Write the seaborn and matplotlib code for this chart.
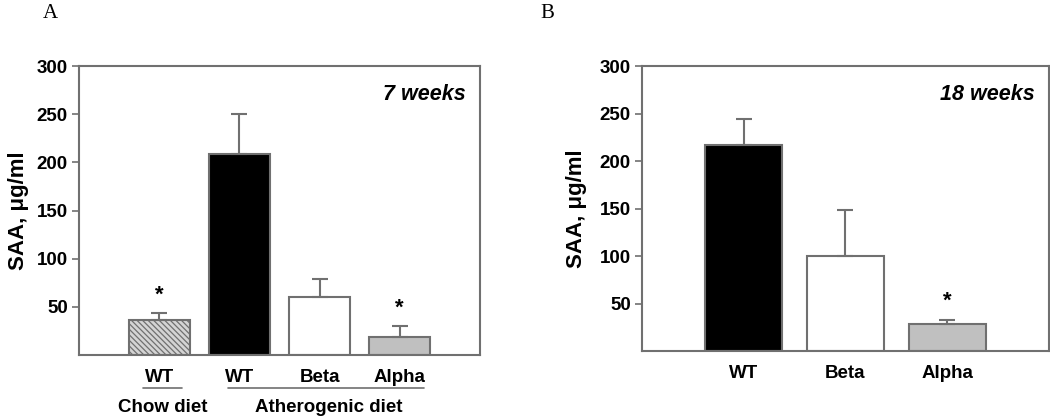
import matplotlib
matplotlib.use("Agg")
import matplotlib.pyplot as plt
import seaborn as sns

# panel A, 7 weeks
groups_a = ["Chow WT", "Athero WT", "Beta", "Alpha"]
labels_a = ["WT", "WT", "Beta", "Alpha"]
means_a = [36, 209, 60, 19]
errs_a = [7.5, 41, 19, 11]
stars_a = [True, False, False, True]

# panel B, 18 weeks
groups_b = ["WT", "Beta", "Alpha"]
labels_b = ["WT", "Beta", "Alpha"]
means_b = [217, 100, 28]
errs_b = [27, 48, 5]
stars_b = [False, False, True]

yticks = [50, 100, 150, 200, 250, 300]

sns.set_style("white")
plt.rcParams["font.family"] = ["Liberation Sans", "DejaVu Sans"]
plt.rcParams["text.color"] = "black"
plt.rcParams["xtick.color"] = "black"
plt.rcParams["ytick.color"] = "black"
plt.rcParams["axes.labelcolor"] = "black"
plt.rcParams["hatch.linewidth"] = 0.9
plt.rcParams["hatch.color"] = "#505050"

EDGE = "#707070"
colors_a = ["#d4d4d4", "black", "white", "#c0c0c0"]
colors_b = ["black", "white", "#c0c0c0"]


def draw_panel(ax, groups, labels, means, errs, stars, colors, xlim, title):
    sns.barplot(x=groups, y=means, hue=groups, palette=colors, legend=False,
                width=0.76, edgecolor=EDGE, linewidth=1.5, ax=ax)
    ax.errorbar(range(len(groups)), means, yerr=[[0] * len(errs), errs],
                fmt="none", ecolor=EDGE, elinewidth=1.5, capsize=6,
                capthick=1.5, zorder=1)
    for i, s in enumerate(stars):
        if s:
            ax.text(i, means[i] + errs[i] + 8, "*", ha="center", va="bottom",
                    fontsize=16, fontweight="bold")
    ax.set_xlim(*xlim)
    ax.set_ylim(0, 300)
    ax.set_yticks(yticks)
    ax.set_yticklabels([str(t) for t in yticks], fontsize=13.5, fontweight="bold")
    ax.set_xticks(range(len(groups)))
    ax.set_xticklabels(labels, fontsize=13.5, fontweight="bold")
    ax.tick_params(axis="y", direction="out", length=5, width=1.2,
                   color=EDGE, left=True, pad=3)
    ax.tick_params(axis="x", length=0, pad=10)
    for sp in ax.spines.values():
        sp.set_color(EDGE)
        sp.set_linewidth(1.5)
    ax.set_ylabel("SAA, \u03bcg/ml", fontsize=16, fontweight="bold")
    ax.text(0.965, 0.9, title, transform=ax.transAxes, ha="right",
            va="center", fontsize=15.5, fontweight="bold", style="italic")


fig = plt.figure(figsize=(10.5, 4.16), dpi=100)
ax_a = fig.add_axes([0.0752, 0.1466, 0.3819, 0.6947])
ax_b = fig.add_axes([0.6114, 0.1562, 0.3876, 0.6851])

draw_panel(ax_a, groups_a, labels_a, means_a, errs_a, stars_a, colors_a,
           (-1, 4), "7 weeks")
draw_panel(ax_b, groups_b, labels_b, means_b, errs_b, stars_b, colors_b,
           (-1, 3), "18 weeks")

ax_a.patches[0].set_hatch("\\\\\\\\\\\\")
ax_a.yaxis.set_label_coords(-0.125, 0.5)
ax_b.yaxis.set_label_coords(-0.135, 0.5)

# diet group annotations under panel A
tr = ax_a.get_xaxis_transform()
ax_a.plot([-0.2, 0.28], [-0.115, -0.115], color=EDGE, lw=1.2,
          transform=tr, clip_on=False)
ax_a.plot([0.86, 3.3], [-0.115, -0.115], color=EDGE, lw=1.2,
          transform=tr, clip_on=False)
ax_a.text(0.04, -0.18, "Chow diet", transform=tr, ha="center", va="center",
          fontsize=13.5, fontweight="bold")
ax_a.text(2.11, -0.18, "Atherogenic diet", transform=tr, ha="center",
          va="center", fontsize=13.5, fontweight="bold")

fig.text(50 / 1050, 1 - 14 / 416, "A", ha="center", va="center",
         fontsize=15, family="Liberation Serif")
fig.text(547 / 1050, 1 - 14 / 416, "B", ha="center", va="center",
         fontsize=15, family="Liberation Serif")

fig.savefig("out.png", dpi=100)
